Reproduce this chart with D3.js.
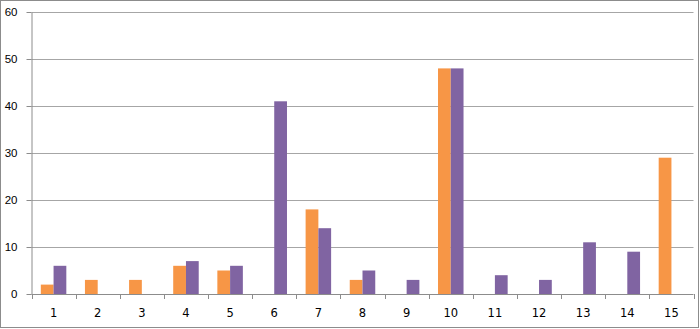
<!DOCTYPE html>
<html>
<head>
<meta charset="UTF-8" />
<title>Chart</title>
<script src="https://d3js.org/d3.v7.min.js"></script>
<style>
body { margin: 0; background: white; }
svg { display: block; font-family: "DejaVu Sans", Verdana, sans-serif; }
</style>
</head>
<body>
<svg id="chart" width="700" height="329"></svg>
<script>
// data
var categories = ["1","2","3","4","5","6","7","8","9","10","11","12","13","14","15"];
var orangeValues = [2, 3, 3, 6, 5, 0, 18, 3, 0, 48, 0, 0, 0, 0, 29];
var purpleValues = [6, 0, 0, 7, 6, 41, 14, 5, 3, 48, 4, 3, 11, 9, 0];
var yTicks = [0, 10, 20, 30, 40, 50, 60];

(function() {
var svg = d3.select("#chart");
var plotLeft = 31.5, plotRight = 693.5, plotTop = 12, plotBottom = 294;

// outer frame
svg.append("rect").attr("x", 0.5).attr("y", 0.5).attr("width", 698).attr("height", 327)
    .attr("fill", "white").attr("stroke", "#8c8c8c");

var x = d3.scaleBand().domain(categories).range([plotLeft, plotRight]);
var inner = d3.scaleBand().domain([0, 1]).range([0, x.bandwidth()]).paddingInner(0).paddingOuter(0.73);
var y = d3.scaleLinear().domain([0, 60]).range([plotBottom, plotTop]);

// gridlines
svg.append("g").selectAll("line").data(yTicks.slice(1)).enter().append("line")
    .attr("x1", plotLeft).attr("x2", plotRight)
    .attr("y1", function(d) { return Math.round(y(d)) + 0.5; })
    .attr("y2", function(d) { return Math.round(y(d)) + 0.5; })
    .attr("stroke", "#a6a6a6").attr("stroke-width", 1);

// bars
var groups = svg.append("g").selectAll("g").data(categories).enter().append("g")
    .attr("transform", function(d) { return "translate(" + x(d) + ",0)"; });
groups.append("rect")
    .attr("x", inner(0)).attr("width", inner.bandwidth())
    .attr("y", function(d, i) { return y(orangeValues[i]); })
    .attr("height", function(d, i) { return plotBottom - y(orangeValues[i]); })
    .attr("fill", "#f79646");
groups.append("rect")
    .attr("x", inner(1)).attr("width", inner.bandwidth())
    .attr("y", function(d, i) { return y(purpleValues[i]); })
    .attr("height", function(d, i) { return plotBottom - y(purpleValues[i]); })
    .attr("fill", "#8064a2");

// y axis
var yAxis = svg.append("g").attr("transform", "translate(" + plotLeft + ",0)")
    .call(d3.axisLeft(y).tickValues(yTicks).tickSize(5).tickPadding(9).tickSizeOuter(0));
yAxis.selectAll("line, path").attr("stroke", "#8c8c8c");
yAxis.selectAll("text").attr("font-size", 11.5).attr("fill", "#000");

// x axis with ticks at category boundaries
var xAxisG = svg.append("g");
xAxisG.append("line").attr("x1", plotLeft).attr("x2", plotRight).attr("y1", plotBottom + 0.5).attr("y2", plotBottom + 0.5)
    .attr("stroke", "#8c8c8c");
var bounds = categories.map(function(c) { return x(c); }).concat([plotRight]);
xAxisG.selectAll("line.tk").data(bounds).enter().append("line").attr("class", "tk")
    .attr("x1", function(d) { return Math.round(d) + 0.5; })
    .attr("x2", function(d) { return Math.round(d) + 0.5; })
    .attr("y1", plotBottom).attr("y2", plotBottom + 5).attr("stroke", "#8c8c8c");
xAxisG.selectAll("text").data(categories).enter().append("text")
    .attr("x", function(d) { return x(d) + x.bandwidth() / 2; })
    .attr("y", 317).attr("text-anchor", "middle")
    .attr("font-size", 11.5).attr("fill", "#000")
    .text(function(d) { return d; });
})();
</script>
</body>
</html>
